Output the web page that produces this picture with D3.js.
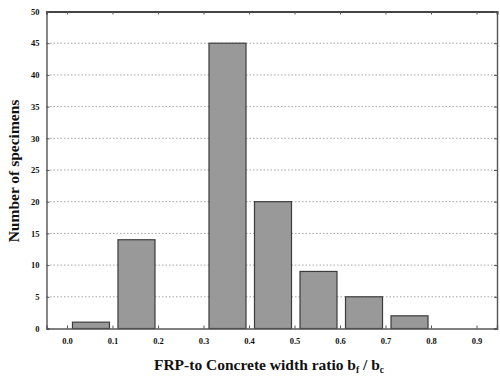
<!DOCTYPE html>
<html>
<head>
<meta charset="utf-8">
<script src="https://cdn.jsdelivr.net/npm/d3@7"></script>
<style>
  html, body { margin: 0; padding: 0; background: #fff; }
  svg { display: block; }
  text { font-family: "Liberation Serif", "DejaVu Serif", serif; font-weight: bold; fill: #111; }
</style>
</head>
<body>
<svg id="chart" width="500" height="379"></svg>
<script>
// Histogram bins of the FRP-to-concrete width ratio and specimen counts
const binStarts = [0.0, 0.1, 0.2, 0.3, 0.4, 0.5, 0.6, 0.7, 0.8];
const binEnds   = [0.1, 0.2, 0.3, 0.4, 0.5, 0.6, 0.7, 0.8, 0.9];
const counts    = [1, 14, 0, 45, 20, 9, 5, 2, 0];
const xTicks = [0.0, 0.1, 0.2, 0.3, 0.4, 0.5, 0.6, 0.7, 0.8, 0.9];
const yTicks = [0, 5, 10, 15, 20, 25, 30, 35, 40, 45, 50];

const svg = d3.select("#chart");
const plotLeft = 46.5, plotRight = 497, plotTop = 11.5, plotBottom = 328.5;

const x = d3.scaleLinear().domain([-0.045, 0.945]).range([plotLeft, plotRight]);
const y = d3.scaleLinear().domain([0, 50]).range([plotBottom, plotTop]);

// Dotted horizontal grid
svg.append("g")
  .selectAll("line")
  .data(yTicks.filter(d => d > 0 && d < 50))
  .join("line")
  .attr("x1", plotLeft).attr("x2", plotRight)
  .attr("y1", d => y(d)).attr("y2", d => y(d))
  .attr("stroke", "#9a9a9a")
  .attr("stroke-width", 0.9)
  .attr("stroke-dasharray", "1.5,2");

// Bars
const bins = binStarts.map((s, i) => ({ lo: s, hi: binEnds[i], n: counts[i] }));
svg.append("g")
  .selectAll("rect")
  .data(bins.filter(d => d.n > 0))
  .join("rect")
  .attr("x", d => x(d.lo) + 5.5)
  .attr("width", d => x(d.hi) - x(d.lo) - 8.5)
  .attr("y", d => y(d.n))
  .attr("height", d => y(0) - y(d.n))
  .attr("fill", "#999")
  .attr("stroke", "#3c3c3c")
  .attr("stroke-width", 1.2);

// Axes with inward ticks on all sides
const fmtX = d3.format(".1f");
const bottomAxis = svg.append("g")
  .attr("transform", `translate(0,${plotBottom})`)
  .call(d3.axisBottom(x).tickValues(xTicks).tickFormat(fmtX).tickSize(-3).tickPadding(9));
const topAxis = svg.append("g")
  .attr("transform", `translate(0,${plotTop})`)
  .call(d3.axisTop(x).tickValues(xTicks).tickFormat("").tickSize(-3));
const leftAxis = svg.append("g")
  .attr("transform", `translate(${plotLeft},0)`)
  .call(d3.axisLeft(y).tickValues(yTicks).tickSize(-3).tickPadding(7));
const rightAxis = svg.append("g")
  .attr("transform", `translate(${plotRight},0)`)
  .call(d3.axisRight(y).tickValues(yTicks).tickFormat("").tickSize(-3));

[bottomAxis, topAxis, leftAxis, rightAxis].forEach(g => {
  g.select(".domain").attr("stroke", "#555").attr("stroke-width", 1.4);
  g.selectAll(".tick line").attr("stroke", "#555");
  g.selectAll("text")
    .style("font-family", '"Liberation Serif", serif')
    .style("font-weight", "bold")
    .style("font-size", "8.5px")
    .attr("fill", "#222");
});
topAxis.select(".domain").attr("stroke", "#444").attr("stroke-width", 2);

// Axis titles
svg.append("text")
  .attr("transform", `translate(19,${(plotTop + plotBottom) / 2 + 1}) rotate(-90)`)
  .attr("text-anchor", "middle")
  .style("font-size", "15.5px")
  .text("Number of specimens");

const xt = svg.append("text")
  .attr("x", 269).attr("y", 370)
  .attr("text-anchor", "middle")
  .style("font-size", "15.5px");
xt.append("tspan").text("FRP-to Concrete width ratio b");
xt.append("tspan").attr("baseline-shift", "-25%").style("font-size", "9.5px").text("f");
xt.append("tspan").text(" / b");
xt.append("tspan").attr("baseline-shift", "-25%").style("font-size", "9.5px").text("c");
</script>
</body>
</html>
